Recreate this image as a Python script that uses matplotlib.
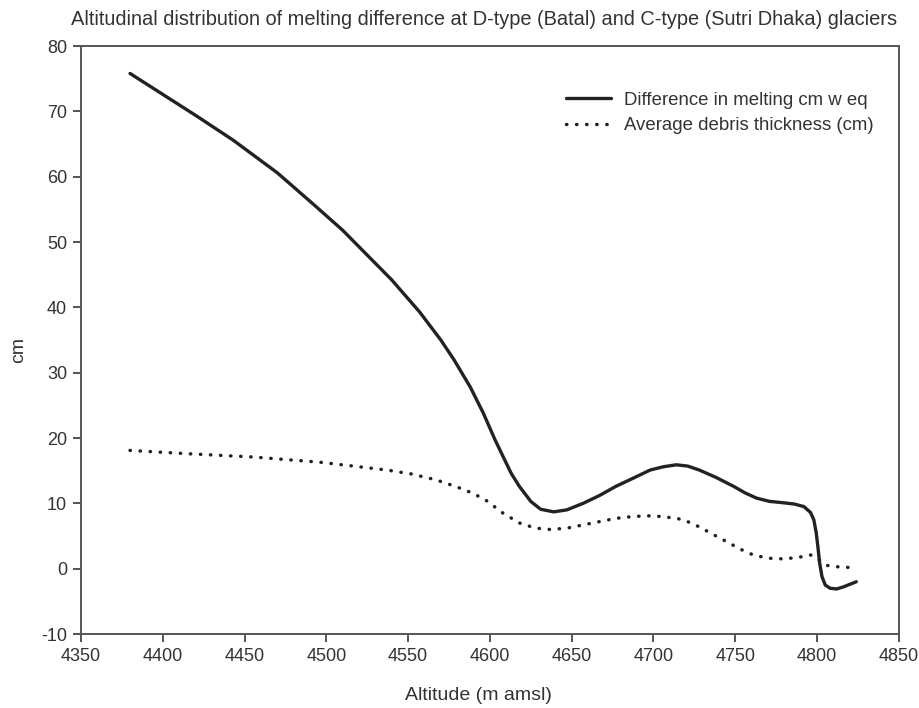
# melting difference vs altitude, Batal (D-type) vs Sutri Dhaka (C-type)

import matplotlib
matplotlib.use("Agg")
from matplotlib import pyplot as plt

# values
alt_melt = [4380, 4400, 4420, 4443, 4470, 4492, 4510, 4525, 4540, 4557,
            4570, 4578, 4588, 4596, 4603, 4608, 4613, 4618, 4625, 4631,
            4639, 4647, 4657, 4667, 4677, 4688, 4698, 4706, 4714, 4721,
            4728, 4738, 4749, 4756, 4763, 4771, 4779, 4786, 4792, 4796,
            4798, 4799.5, 4800.5, 4801.5, 4803, 4805, 4808, 4812, 4816, 4820,
            4824]
melt_diff = [75.8, 72.6, 69.4, 65.6, 60.6, 55.8, 51.8, 48.0, 44.2, 39.3,
             35.0, 32.0, 27.8, 23.8, 19.8, 17.2, 14.6, 12.6, 10.3, 9.1,
             8.7, 9.0, 10.0, 11.2, 12.6, 13.9, 15.1, 15.6, 15.9, 15.7,
             15.1, 14.0, 12.6, 11.6, 10.8, 10.3, 10.1, 9.9, 9.5, 8.6,
             7.5, 5.5, 3.4, 1.0, -1.2, -2.5, -3.0, -3.1, -2.8, -2.4,
             -2.0]

alt_debris = [4380, 4415, 4455, 4496, 4520, 4537, 4552, 4567, 4580, 4590,
              4598, 4608, 4618, 4628, 4637, 4647, 4657, 4667, 4677, 4688,
              4699, 4708, 4716, 4722, 4728, 4736, 4745, 4753, 4761, 4770,
              4779, 4788, 4796, 4801, 4806, 4812, 4818, 4821]
debris_cm = [18.1, 17.6, 17.1, 16.3, 15.6, 15.1, 14.5, 13.6, 12.5, 11.5,
             10.4, 8.5, 7.0, 6.2, 6.0, 6.2, 6.7, 7.2, 7.7, 8.0,
             8.1, 7.9, 7.6, 7.1, 6.4, 5.3, 4.1, 3.0, 2.1, 1.6,
             1.5, 1.7, 2.1, 1.4, 0.5, 0.3, 0.2, 0.2]

xticks = list(range(4350, 4851, 50))
yticks = list(range(-10, 81, 10))

TEXT = "#333333"
AXC = "#555555"


def main():
    plt.rcParams["font.family"] = ["Liberation Sans", "DejaVu Sans"]
    plt.rcParams["axes.unicode_minus"] = False

    fig = plt.figure(figsize=(9.2, 7.08), dpi=100)
    ax = fig.add_axes([0.088, 0.1045, 0.889, 0.8305])

    ax.plot(alt_melt, melt_diff, color="#222222", lw=2.4,
            solid_capstyle="round", solid_joinstyle="round",
            label="Difference in melting cm w eq")
    ax.plot(alt_debris, debris_cm, color="#222222", lw=2.5,
            linestyle=(0, (0.1, 2.8)), dash_capstyle="round",
            label="Average debris thickness (cm)")

    ax.set_xlim(4350, 4850)
    ax.set_ylim(-10, 80)
    ax.set_xticks(xticks)
    ax.set_yticks(yticks)

    for s in ax.spines.values():
        s.set_color(AXC)
        s.set_linewidth(1.4)
    ax.tick_params(direction="out", length=6, width=1.4, color=AXC,
                   labelsize=13, labelcolor=TEXT, pad=4)

    fig.text(0.526, 0.973, "Altitudinal distribution of melting difference at "
             "D-type (Batal) and C-type (Sutri Dhaka) glaciers",
             ha="center", va="center", fontsize=14.4, color=TEXT)
    fig.text(0.52, 0.018, "Altitude (m amsl)", ha="center", va="center",
             fontsize=14, color=TEXT)
    fig.text(0.02, 0.505, "cm", ha="center", va="center", rotation=90,
             fontsize=14, color=TEXT)

    ax.legend(loc="upper right", bbox_to_anchor=(0.978, 0.935), frameon=False,
              fontsize=13.4, labelcolor=TEXT, handlelength=2.4,
              handletextpad=0.7, borderaxespad=0, labelspacing=0.45)

    fig.savefig("out.png", dpi=100)


if __name__ == "__main__":
    main()
